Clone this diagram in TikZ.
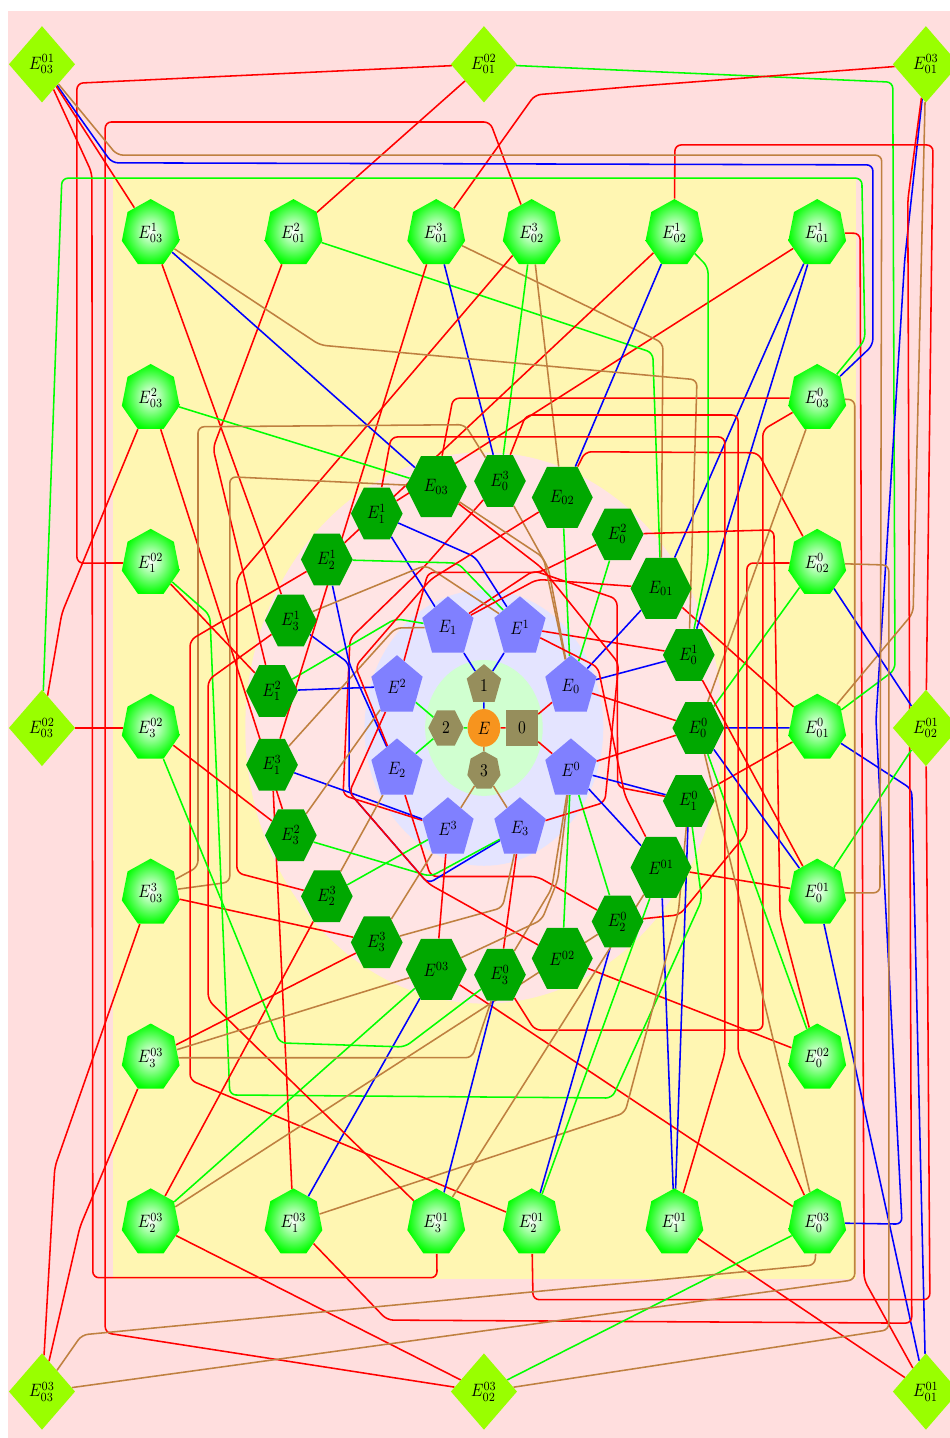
\documentclass[tikz,border=0pt]{standalone}
\usetikzlibrary{shapes.geometric}
\definecolor{pinkbg}{RGB}{255,222,222}
\definecolor{pinkin}{RGB}{255,228,228}
\definecolor{yellowbg}{RGB}{255,246,178}
\definecolor{bluebg}{RGB}{228,228,255}
\definecolor{greenbg}{RGB}{208,255,208}
\definecolor{pentc}{RGB}{128,128,255}
\definecolor{hexc}{RGB}{0,168,0}
\definecolor{diac}{RGB}{153,255,0}
\definecolor{olivec}{RGB}{150,142,92}
\definecolor{orangec}{RGB}{247,148,30}
\definecolor{brownc}{RGB}{191,128,64}
\pgfdeclarelayer{back}
\pgfsetlayers{back,main}
\begin{document}
\begin{tikzpicture}[yscale=1.155,
    every node/.append style={transform shape},
    core/.style={fill=olivec, inner sep=0pt},
    pent/.style={regular polygon, regular polygon sides=5, fill=pentc,
        minimum size=1.22cm, inner sep=0pt},
    hexs/.style={regular polygon, regular polygon sides=6, fill=hexc,
        minimum size=1.17cm, inner sep=0pt},
    hexb/.style={hexs, minimum size=1.38cm},
    hept/.style={regular polygon, regular polygon sides=7,
        inner color=white, outer color=green, minimum size=1.34cm, inner sep=0pt},
    dia/.style={diamond, fill=diac, minimum width=1.5cm,
        minimum height=1.5cm, inner sep=0pt},
    wire/.style={line width=1pt, rounded corners=4pt},
    link0/.style={wire, red},
    link1/.style={wire, blue},
    link2/.style={wire, green},
    link3/.style={wire, brownc}]

    \useasboundingbox (-10.95,-13.91) rectangle (10.54,14.26);

    % ============================================================
    % BACKGROUND REGIONS
    % ============================================================
    \begin{pgfonlayer}{back}
    \fill[pinkbg] (-10.77,-14.04) rectangle (10.77,14.04);
    \fill[yellowbg] (-8.4,-10.79) rectangle (8.42,10.79);
    \fill[pinkin] (0,0) circle (5.4cm);
    \fill[bluebg] (0,0) circle (2.7cm);
    \fill[greenbg] (0,0) circle (1.33cm);
    \end{pgfonlayer}

    % ============================================================
    % CORE
    % ============================================================
    \node[circle, fill=orangec, minimum size=0.74cm, inner sep=0pt] (e) at (0,0) {$E$};
    \node[core, rectangle, minimum size=0.72cm] (k0) at (0.86,0) {0};
    \node[core, regular polygon, regular polygon sides=5, minimum size=0.82cm] (k1) at (0,0.84) {1};
    \node[core, regular polygon, regular polygon sides=6, minimum size=0.8cm] (k2) at (-0.86,0) {2};
    \node[core, regular polygon, regular polygon sides=7, minimum size=0.77cm] (k3) at (0,-0.84) {3};

    % ============================================================
    % PENTAGONS
    % ============================================================
    \node[pent] (s0) at (22.5:2.13) {$E_0$};
    \node[pent] (t1) at (67.5:2.13) {$E^1$};
    \node[pent] (s1) at (112.5:2.13) {$E_1$};
    \node[pent] (t2) at (157.5:2.13) {$E^2$};
    \node[pent] (s2) at (202.5:2.13) {$E_2$};
    \node[pent] (t3) at (247.5:2.13) {$E^3$};
    \node[pent] (s3) at (292.5:2.13) {$E_3$};
    \node[pent] (t0) at (337.5:2.13) {$E^0$};

    % ============================================================
    % HEXAGON RING
    % ============================================================
    \node[hexs] (h00) at (0:4.85) {$E_0^0$};
    \node[hexs] (h01) at ({360/21*1}:4.85) {$E_0^1$};
    \node[hexb] (hs1) at ({360/21*2}:4.85) {$E_{01}$};
    \node[hexs] (h02) at ({360/21*3}:4.85) {$E_0^2$};
    \node[hexb] (hs2) at ({360/21*4}:4.85) {$E_{02}$};
    \node[hexs] (h03) at ({360/21*5}:4.85) {$E_0^3$};
    \node[hexb] (hs3) at ({360/21*6}:4.85) {$E_{03}$};
    \node[hexs] (h11) at ({360/21*7}:4.85) {$E_1^1$};
    \node[hexs] (h21) at ({360/21*8}:4.85) {$E_2^1$};
    \node[hexs] (h31) at ({360/21*9}:4.85) {$E_3^1$};
    \node[hexs] (h12) at ({360/21*10}:4.85) {$E_1^2$};
    \node[hexs] (h13) at ({360/21*11}:4.85) {$E_1^3$};
    \node[hexs] (h32) at ({360/21*12}:4.85) {$E_3^2$};
    \node[hexs] (h23) at ({360/21*13}:4.85) {$E_2^3$};
    \node[hexs] (h33) at ({360/21*14}:4.85) {$E_3^3$};
    \node[hexb] (ht3) at ({360/21*15}:4.85) {$E^{03}$};
    \node[hexs] (h30) at ({360/21*16}:4.85) {$E_3^0$};
    \node[hexb] (ht2) at ({360/21*17}:4.85) {$E^{02}$};
    \node[hexs] (h20) at ({360/21*18}:4.85) {$E_2^0$};
    \node[hexb] (ht1) at ({360/21*19}:4.85) {$E^{01}$};
    \node[hexs] (h10) at ({360/21*20}:4.85) {$E_1^0$};

    % ============================================================
    % HEPTAGON FRAME
    % ============================================================
    \node[hept] (p31) at (-7.54,9.69) {$E_{03}^1$};
    \node[hept] (p12) at (-4.31,9.69) {$E_{01}^2$};
    \node[hept] (p13) at (-1.08,9.69) {$E_{01}^3$};
    \node[hept] (p23) at (1.08,9.69) {$E_{02}^3$};
    \node[hept] (p21) at (4.31,9.69) {$E_{02}^1$};
    \node[hept] (p11) at (7.54,9.69) {$E_{01}^1$};
    \node[hept] (p32) at (-7.54,6.46) {$E_{03}^2$};
    \node[hept] (q12) at (-7.54,3.23) {$E_1^{02}$};
    \node[hept] (q32) at (-7.54,0) {$E_3^{02}$};
    \node[hept] (p33) at (-7.54,-3.23) {$E_{03}^3$};
    \node[hept] (q33) at (-7.54,-6.46) {$E_3^{03}$};
    \node[hept] (q23) at (-7.54,-9.69) {$E_2^{03}$};
    \node[hept] (q13) at (-4.31,-9.69) {$E_1^{03}$};
    \node[hept] (q31) at (-1.08,-9.69) {$E_3^{01}$};
    \node[hept] (q21) at (1.08,-9.69) {$E_2^{01}$};
    \node[hept] (q11) at (4.31,-9.69) {$E_1^{01}$};
    \node[hept] (q03) at (7.54,-9.69) {$E_0^{03}$};
    \node[hept] (p30) at (7.54,6.46) {$E_{03}^0$};
    \node[hept] (p20) at (7.54,3.23) {$E_{02}^0$};
    \node[hept] (p10) at (7.54,0) {$E_{01}^0$};
    \node[hept] (q01) at (7.54,-3.23) {$E_0^{01}$};
    \node[hept] (q02) at (7.54,-6.46) {$E_0^{02}$};

    % ============================================================
    % DIAMONDS
    % ============================================================
    \node[dia] (d31) at (-10,13) {$E_{03}^{01}$};
    \node[dia] (d12) at (0,13) {$E_{01}^{02}$};
    \node[dia] (d13) at (10,13) {$E_{01}^{03}$};
    \node[dia] (d32) at (-10,0) {$E_{03}^{02}$};
    \node[dia] (d21) at (10,0) {$E_{02}^{01}$};
    \node[dia] (d33) at (-10,-13) {$E_{03}^{03}$};
    \node[dia] (d23) at (0,-13) {$E_{02}^{03}$};
    \node[dia] (d11) at (10,-13) {$E_{01}^{01}$};

    \begin{pgfonlayer}{back}
    % ============================================================
    % CORE EDGES
    % ============================================================
    \draw[link0] (e) -- (k0);
    \draw[link1] (e) -- (k1);
    \draw[link2] (e) -- (k2);
    \draw[link3] (e) -- (k3);
    \draw[link0] (k0) -- (s0);
    \draw[link0] (k0) -- (t0);
    \draw[link1] (k1) -- (s1);
    \draw[link1] (k1) -- (t1);
    \draw[link2] (k2) -- (s2);
    \draw[link2] (k2) -- (t2);
    \draw[link3] (k3) -- (s3);
    \draw[link3] (k3) -- (t3);

    % ============================================================
    % PENTAGON -- HEXAGON EDGES
    % ============================================================
    \draw[link0] (s0) -- (h00);
    \draw[link0] (t0) -- (h00);
    \draw[link1] (s0) -- (h01);
    \draw[link0] (t1) -- (h01);
    \draw[link2] (s0) -- (h02);
    \draw[link0] (t2) -- (112.5:3.3) -- (67.5:3.3) -- (h02);
    \draw[link3] (s0) -- (65:3.45) -- (h03);
    \draw[link0] (t3) -- (202.5:3.45) -- (150:3.5) -- (112.5:3.45) -- (h03);
    \draw[link0] (s1) -- (70:3.28) -- (40:3.93) -- (-21:3.24) -- (h10);
    \draw[link1] (t0) -- (h10);
    \draw[link1] (s1) -- (h11);
    \draw[link1] (t1) -- (-0.2,3.35) -- (h11);
    \draw[link2] (s1) -- (-2.0,2.14) -- (h12);
    \draw[link1] (t2) -- (h12);
    \draw[link3] (s1) -- (-2.0,1.96) -- (h13);
    \draw[link1] (t3) -- (202.5:3.3) -- (h13);
    \draw[link0] (s2) -- (247.5:3.15) -- (292.5:3.15) -- (h20);
    \draw[link2] (t0) -- (h20);
    \draw[link1] (s2) -- (157.5:3.3) -- (h21);
    \draw[link2] (t1) -- (-0.59,3.23) -- (h21);
    \draw[link3] (s2) -- (h23);
    \draw[link2] (t3) -- (h23);
    \draw[link0] (s3) -- (h30);
    \draw[link3] (t0) -- (-64:3.5) -- (h30);
    \draw[link1] (s3) -- (247.5:3.3) -- (202.5:3.3) -- (157.5:3.3) -- (h31);
    \draw[link3] (t1) -- (112.5:3.45) -- (h31);
    \draw[link2] (s3) -- (247.5:3.15) -- (h32);
    \draw[link3] (t2) -- (h32);
    \draw[link3] (s3) -- (0.42,-3.52) -- (h33);
    \draw[link3] (t3) -- (h33);
    \draw[link1] (s0) -- (hs1);
    \draw[link0] (s1) -- (67.5:3.15) -- (hs1);
    \draw[link2] (s0) -- (hs2);
    \draw[link0] (s2) -- (157.5:3.15) -- (112.5:3.15) -- (hs2);
    \draw[link3] (s0) -- (68:3.6) -- (hs3);
    \draw[link0] (s3) -- (-28:3.1) -- (22.5:3.3) -- (67.5:3.4) -- (hs3);
    \draw[link1] (t0) -- (ht1);
    \draw[link0] (t1) -- (2.58,1.19) -- (-22.5:3.45) -- (ht1);
    \draw[link2] (t0) -- (ht2);
    \draw[link0] (t2) -- (202.5:3.3) -- (247.5:3.3) -- (ht2);
    \draw[link3] (t0) -- (1.67,-2.98) -- (1.31,-3.76) -- (ht3);
    \draw[link0] (t3) -- (ht3);

    % ============================================================
    % HEXAGON -- HEPTAGON EDGES
    % ============================================================
    \draw[link0] (hs1) -- (p10);
    \draw[link1] (h00) -- (p10);
    \draw[link0] (h10) -- (p10);
    \draw[link1] (hs1) -- (p11);
    \draw[link1] (h01) -- (p11);
    \draw[link0] (h11) -- (p11);
    \draw[link2] (hs1) -- (3.82,7.35) -- (p12);
    \draw[link0] (h12) -- (-6.13,5.48) -- (p12);
    \draw[link3] (hs1) -- (4.05,7.54) -- (p13);
    \draw[link1] (h03) -- (p13);
    \draw[link0] (h13) -- (p13);
    \draw[link0] (hs2) -- (2.29,5.41) -- (6.2,5.39) -- (p20);
    \draw[link2] (h00) -- (p20);
    \draw[link0] (h20) -- (4.43,-3.66) -- (5.95,-2.06) -- (5.95,3.23) -- (p20);
    \draw[link1] (hs2) -- (p21);
    \draw[link2] (h01) -- (5.07,3.29) -- (5.07,9.03) -- (p21);
    \draw[link0] (h21) -- (p21);
    \draw[link3] (hs2) -- (p23);
    \draw[link2] (h03) -- (p23);
    \draw[link0] (h23) -- (-5.59,-2.84) -- (-5.59,2.94) -- (p23);
    \draw[link0] (hs3) -- (-0.7,6.46) -- (p30);
    \draw[link3] (h00) -- (p30);
    \draw[link0] (h30) -- (1.15,-5.92) -- (6.31,-5.92) -- (6.31,5.84) -- (p30);
    \draw[link1] (hs3) -- (p31);
    \draw[link3] (h01) -- (4.82,6.82) -- (-3.71,7.50) -- (p31);
    \draw[link0] (h31) -- (p31);
    \draw[link2] (hs3) -- (p32);
    \draw[link0] (h32) -- (p32);
    \draw[link3] (hs3) -- (-5.75,4.92) -- (-5.75,-3.02) -- (p33);
    \draw[link3] (h03) -- (-0.43,5.94) -- (-6.47,5.90) -- (-6.47,-2.72) -- (p33);
    \draw[link0] (h33) -- (p33);
    \draw[link0] (ht1) -- (q01);
    \draw[link1] (h00) -- (q01);
    \draw[link0] (h01) -- (q01);
    \draw[link0] (ht2) -- (q02);
    \draw[link2] (h00) -- (q02);
    \draw[link0] (h02) -- (6.56,3.88) -- (6.70,-3.70) -- (q02);
    \draw[link0] (ht3) -- (q03);
    \draw[link3] (h00) -- (q03);
    \draw[link0] (h03) -- (0.95,6.13) -- (5.75,6.13) -- (5.75,-6.37) -- (q03);
    \draw[link1] (ht1) -- (q11);
    \draw[link1] (h10) -- (q11);
    \draw[link0] (h11) -- (-2.1,5.70) -- (5.45,5.70) -- (5.45,-6.37) -- (q11);
    \draw[link2] (h10) -- (4.93,-3.37) -- (2.9,-7.25) -- (-5.75,-7.19) -- (-6.2,2.21) -- (q12);
    \draw[link0] (h12) -- (q12);
    \draw[link1] (ht3) -- (q13);
    \draw[link3] (h10) -- (4.4,-3.6) -- (3.19,-7.54) -- (q13);
    \draw[link0] (h13) -- (q13);
    \draw[link2] (ht1) -- (q21);
    \draw[link1] (h20) -- (q21);
    \draw[link0] (h21) -- (-6.65,1.72) -- (-6.65,-6.9) -- (q21);
    \draw[link2] (ht3) -- (q23);
    \draw[link3] (h20) -- (q23);
    \draw[link0] (h23) -- (q23);
    \draw[link3] (ht1) -- (q31);
    \draw[link1] (h30) -- (q31);
    \draw[link0] (h31) -- (-6.24,0.94) -- (-6.24,-5.33) -- (q31);
    \draw[link2] (h30) -- (-1.79,-6.25) -- (-4.62,-6.17) -- (q32);
    \draw[link0] (h32) -- (q32);
    \draw[link3] (ht3) -- (q33);
    \draw[link3] (h30) -- (-0.27,-6.46) -- (q33);
    \draw[link0] (h33) -- (q33);

    % ============================================================
    % HEPTAGON -- DIAMOND EDGES
    % ============================================================
    \draw[link1] (p10) -- (9.68,-1.2) -- (d11);
    \draw[link0] (p11) -- (8.51,9.69) -- (8.60,-10.81) -- (d11);
    \draw[link1] (q01) -- (d11);
    \draw[link0] (q11) -- (d11);
    \draw[link2] (d12) -- (9.25,12.65) -- (9.30,1.14) -- (p10);
    \draw[link0] (d12) -- (p12);
    \draw[link0] (d12) -- (-9.21,12.63) -- (-9.21,3.23) -- (q12);
    \draw[link3] (d13) -- (9.86,7.80) -- (9.71,2.25) -- (p10);
    \draw[link0] (d13) -- (3.30,12.56) -- (1.15,12.40) -- (p13);
    \draw[link1] (d13) -- (9.52,9.17) -- (8.87,0.16) -- (9.46,-9.72) -- (q03);
    \draw[link0] (d13) -- (9.59,10.34) -- (9.68,-11.66) -- (-2.19,-11.6) -- (q13);
    \draw[link1] (d21) -- (p20);
    \draw[link0] (d21) -- (10.16,11.42) -- (4.32,11.42) -- (p21);
    \draw[link2] (d21) -- (q01);
    \draw[link0] (d21) -- (10.09,-11.2) -- (1.11,-11.2) -- (q21);
    \draw[link3] (d23) -- (9.16,-11.79) -- (9.16,3.19) -- (p20);
    \draw[link0] (d23) -- (-8.57,-11.85) -- (-8.57,11.87) -- (0.14,11.87) -- (p23);
    \draw[link2] (d23) -- (q03);
    \draw[link0] (d23) -- (q23);
    \draw[link1] (d31) -- (-8.42,11.07) -- (8.80,11.03) -- (8.80,7.50) -- (p30);
    \draw[link0] (d31) -- (p31);
    \draw[link3] (d31) -- (-8.30,11.22) -- (9.00,11.22) -- (8.96,-3.23) -- (q01);
    \draw[link0] (d31) -- (-8.87,10.87) -- (-8.85,-10.77) -- (-1.06,-10.77) -- (q31);
    \draw[link2] (d32) -- (-9.55,10.77) -- (8.55,10.77) -- (8.62,7.60) -- (p30);
    \draw[link0] (d32) -- (-9.55,2.25) -- (p32);
    \draw[link0] (d32) -- (q32);
    \draw[link3] (d33) -- (8.39,-10.81) -- (8.39,6.43) -- (p30);
    \draw[link0] (d33) -- (-9.71,-8.6) -- (p33);
    \draw[link3] (d33) -- (-9.10,-11.89) -- (7.49,-10.52) -- (q03);
    \draw[link0] (d33) -- (-9.14,-9.77) -- (q33);
    \end{pgfonlayer}

\end{tikzpicture}
\end{document}
